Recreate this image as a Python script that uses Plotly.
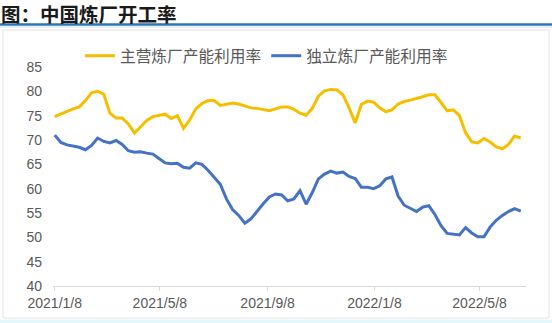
import plotly.graph_objects as go
import pandas as pd

# ---- data (weekly) ----
start_date = "2021-01-08"
n_weeks = 77
dates = pd.date_range(start_date, periods=n_weeks, freq="7D")

main_refinery = [
    74.8, 75.4, 75.9, 76.4, 76.8, 78.1, 79.7, 80.0, 79.4, 75.5,
    74.5, 74.5, 73.3, 71.4, 72.7, 74.0, 74.8, 75.1, 75.3, 74.4,
    75.0, 72.4, 74.1, 76.4, 77.5, 78.1, 78.1, 77.1, 77.3, 77.6,
    77.4, 77.0, 76.6, 76.5, 76.2, 76.0, 76.4, 76.8, 76.8, 76.3,
    75.5, 75.1, 76.5, 79.0, 80.1, 80.4, 80.3, 79.3, 76.6, 73.5,
    77.3, 78.0, 77.8, 76.6, 75.8, 76.2, 77.4, 77.9, 78.2, 78.5,
    78.9, 79.3, 79.3, 77.7, 76.0, 76.2, 75.0, 71.5, 69.6, 69.4,
    70.3, 69.6, 68.6, 68.2, 69.1, 70.8, 70.4,
]
independent_refinery = [
    71.0, 69.5, 69.0, 68.8, 68.5, 68.0, 68.9, 70.4, 69.7, 69.4,
    69.9, 69.1, 67.8, 67.5, 67.6, 67.3, 67.1, 66.2, 65.3, 65.1,
    65.2, 64.4, 64.2, 65.3, 65.0, 63.8, 62.4, 60.9, 57.9, 55.7,
    54.5, 52.9, 53.8, 55.4, 56.9, 58.3, 58.9, 58.7, 57.5, 57.9,
    59.6, 56.8, 59.2, 62.0, 63.0, 63.6, 63.2, 63.4, 62.5, 62.1,
    60.3, 60.3, 60.0, 60.6, 62.0, 62.4, 58.5, 56.6, 55.9, 55.3,
    56.2, 56.5, 54.7, 52.4, 50.8, 50.6, 50.5, 52.0, 50.9, 50.1,
    50.1, 52.1, 53.5, 54.5, 55.3, 55.9, 55.4,
]
series_names = ["主营炼厂产能利用率", "独立炼厂产能利用率"]
tick_dates = ["2021-01-08", "2021-05-08", "2021-09-08", "2022-01-08", "2022-05-08"]
tick_labels = ["2021/1/8", "2021/5/8", "2021/9/8", "2022/1/8", "2022/5/8"]
y_ticks = [40, 45, 50, 55, 60, 65, 70, 75, 80, 85]
title_text = "图：中国炼厂开工率"

# ---- layout geometry ----
W, H = 552, 323
L, R, T, B = 53, 26, 67, 37
pw, ph = W - L - R, H - T - B

def px_x(p):
    return (p - L) / pw

def px_y(p):
    return (H - B - p) / ph

fig = go.Figure()
fig.add_trace(go.Scatter(x=dates, y=main_refinery, name=series_names[0], mode="lines",
                         line=dict(color="#F7BE00", width=3)))
fig.add_trace(go.Scatter(x=dates, y=independent_refinery, name=series_names[1], mode="lines",
                         line=dict(color="#4472C4", width=3)))

font_family = "Liberation Sans, Noto Sans CJK SC, sans-serif"

fig.update_layout(
    width=W, height=H,
    margin=dict(l=L, r=R, t=T, b=B, pad=0),
    paper_bgcolor="white", plot_bgcolor="white",
    font=dict(family=font_family, size=14, color="#595959"),
    showlegend=True,
    legend=dict(orientation="h", x=px_x(80), y=px_y(56), xanchor="left", yanchor="middle",
                font=dict(size=15.7, color="#595959", family="Noto Sans CJK SC"),
                itemwidth=30, traceorder="normal", bgcolor="rgba(0,0,0,0)"),
    title=dict(text="<b>" + title_text + "</b>", x=0.002, xref="container", xanchor="left",
               y=1 - 15 / H, yref="container", yanchor="middle",
               font=dict(size=19.5, color="#1a1a1a", family="Noto Sans CJK SC")),
)

fig.update_xaxes(
    type="date",
    range=["2021-01-06", "2022-06-30"],
    tickmode="array", tickvals=tick_dates, ticktext=tick_labels,
    showgrid=False, zeroline=False,
    showline=True, linecolor="#d9d9d9", linewidth=1,
    ticks="outside", ticklen=4, tickcolor="#d9d9d9",
    tickfont=dict(size=14, color="#595959"),
)
fig.update_yaxes(
    range=[40, 85], tickmode="array", tickvals=y_ticks,
    showgrid=False, zeroline=False, showline=False,
    ticks="", ticklabelstandoff=10,
    tickfont=dict(size=14, color="#595959"),
)

# decorative frame elements
fig.add_shape(type="rect", xref="paper", yref="paper",
              x0=px_x(3), x1=px_x(549), y0=px_y(318), y1=px_y(30),
              line=dict(color="#e3e3e3", width=1), fillcolor="rgba(0,0,0,0)", layer="below")
fig.add_shape(type="rect", xref="paper", yref="paper",
              x0=px_x(0), x1=px_x(552), y0=px_y(323), y1=px_y(319.5),
              line=dict(width=0), fillcolor="#e6f7fb", layer="below")
fig.add_shape(type="line", xref="paper", yref="paper",
              x0=px_x(0), x1=px_x(552), y0=px_y(24.5), y1=px_y(24.5),
              line=dict(color="#2E75B6", width=2.5))
fig.add_shape(type="line", xref="paper", yref="paper",
              x0=px_x(0), x1=px_x(552), y0=px_y(27), y1=px_y(27),
              line=dict(color="#cfe3f3", width=1))

fig.write_html("out.html")
